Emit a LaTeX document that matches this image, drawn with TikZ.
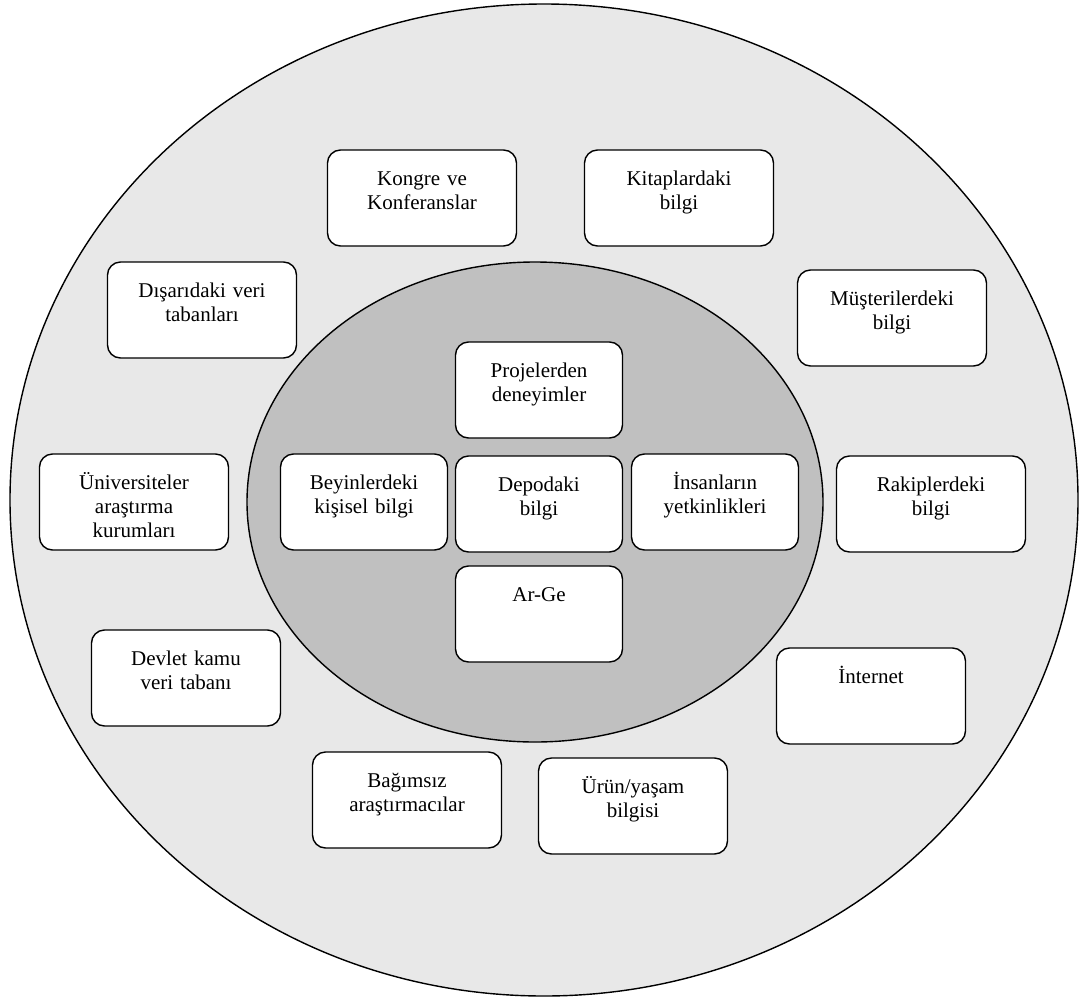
\documentclass[tikz,border=0pt]{standalone}
\usepackage{fontspec}
\setmainfont{Liberation Serif}
\tikzset{
  kutu/.style={draw, line width=1.4pt, fill=white, rounded corners=13pt,
    text width=189pt, align=center, inner sep=0pt,
    text height=35pt, text depth=61pt,
    font=\fontsize{21}{24}\selectfont},
  ickutu/.style={kutu, text width=167pt}
}
\definecolor{disgri}{HTML}{E8E8E8}
\definecolor{icgri}{HTML}{C0C0C0}
\begin{document}
\begin{tikzpicture}[x=1pt, y=-1pt]
\useasboundingbox (0,0) rectangle (1079,999);
\draw[line width=1.4pt, fill=disgri] (544,500) ellipse [x radius=534, y radius=496];
\draw[line width=1.4pt, fill=icgri] (535,502) ellipse [x radius=288, y radius=240];
% outer ring
\node[kutu] (kongre) at (422,198) {Kongre ve\\Konferanslar};
\node[kutu] (kitap) at (679,198) {Kitaplardaki\\bilgi};
\node[kutu] (disari) at (202,310) {Dışarıdaki veri\\tabanları};
\node[kutu] (musteri) at (892,318) {Müşterilerdeki\\bilgi};
\node[kutu] (univ) at (134,502) {Üniversiteler\\araştırma\\kurumları};
\node[kutu] (rakip) at (931,504) {Rakiplerdeki\\bilgi};
\node[kutu] (devlet) at (186,678) {Devlet kamu\\veri tabanı};
\node[kutu] (internet) at (871,696) {İnternet};
\node[kutu] (bagimsiz) at (407,800) {Bağımsız\\araştırmacılar};
\node[kutu] (urun) at (633,806) {Ürün/yaşam\\bilgisi};
% inner core
\node[ickutu] (proje) at (539,390) {Projelerden\\deneyimler};
\node[ickutu] (beyin) at (364,502) {Beyinlerdeki\\kişisel bilgi};
\node[ickutu] (depo) at (539,504) {Depodaki\\bilgi};
\node[ickutu] (insan) at (715,502) {İnsanların\\yetkinlikleri};
\node[ickutu] (arge) at (539,614) {Ar-Ge};
\end{tikzpicture}
\end{document}
